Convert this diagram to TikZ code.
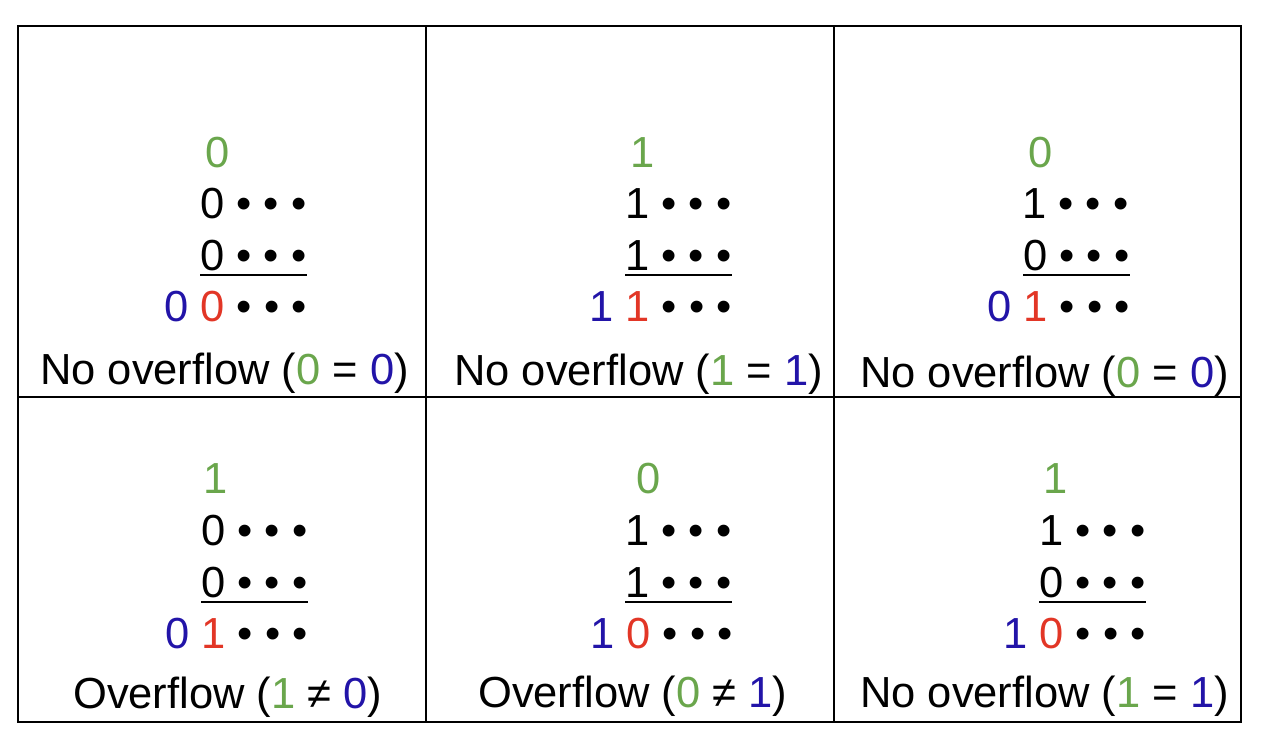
\documentclass[tikz,border=0pt]{standalone}
\usepackage{fontspec}
\setmainfont{Liberation Sans}
\definecolor{cgreen}{RGB}{106,166,76}
\definecolor{cblue}{RGB}{34,20,168}
\definecolor{cred}{RGB}{226,54,38}
\begin{document}
\begin{tikzpicture}[x=1pt,y=-1pt,
  txt/.style={anchor=base west, inner sep=0pt, font=\fontsize{43.5}{50}\selectfont},
  grid/.style={line width=1.5pt},
  uline/.style={line width=2pt}]
\useasboundingbox (0,0) rectangle (1264,750);
% table grid
\draw[grid] (18,26) rectangle (1241,722);
\draw[grid] (426,26) -- (426,722);
\draw[grid] (834,26) -- (834,722);
\draw[grid] (18,397) -- (1241,397);

% cell 1
\node[txt,text=cgreen] (c1g) at (205,167) {0};
\node[txt] (c1a) at (200,218) {0 • • •};
\node[txt] (c1b) at (200,270) {0 • • •};
\node[txt] (c1s) at (164,321) {\textcolor{cblue}{0} \textcolor{cred}{0} • • •};
\node[txt] (c1c) at (40,384) {No overflow (\textcolor{cgreen}{0} = \textcolor{cblue}{0})};
\draw[uline] ([yshift=-5pt]c1b.base west) -- ([yshift=-5pt]c1b.base east);

% cell 2
\node[txt,text=cgreen] (c2g) at (630,167) {1};
\node[txt] (c2a) at (625,218) {1 • • •};
\node[txt] (c2b) at (625,270) {1 • • •};
\node[txt] (c2s) at (589,321) {\textcolor{cblue}{1} \textcolor{cred}{1} • • •};
\node[txt] (c2c) at (454,385) {No overflow (\textcolor{cgreen}{1} = \textcolor{cblue}{1})};
\draw[uline] ([yshift=-5pt]c2b.base west) -- ([yshift=-5pt]c2b.base east);

% cell 3
\node[txt,text=cgreen] (c3g) at (1028,167) {0};
\node[txt] (c3a) at (1022,218) {1 • • •};
\node[txt] (c3b) at (1023,270) {0 • • •};
\node[txt] (c3s) at (987,321) {\textcolor{cblue}{0} \textcolor{cred}{1} • • •};
\node[txt] (c3c) at (860,387) {No overflow (\textcolor{cgreen}{0} = \textcolor{cblue}{0})};
\draw[uline] ([yshift=-5pt]c3b.base west) -- ([yshift=-5pt]c3b.base east);

% cell 4
\node[txt,text=cgreen] (c4g) at (203,493) {1};
\node[txt] (c4a) at (201,545) {0 • • •};
\node[txt] (c4b) at (201,597) {0 • • •};
\node[txt] (c4s) at (165,648) {\textcolor{cblue}{0} \textcolor{cred}{1} • • •};
\node[txt] (c4c) at (73,708) {Overflow (\textcolor{cgreen}{1} ≠ \textcolor{cblue}{0})};
\draw[uline] ([yshift=-5pt]c4b.base west) -- ([yshift=-5pt]c4b.base east);

% cell 5
\node[txt,text=cgreen] (c5g) at (636,493) {0};
\node[txt] (c5a) at (625,545) {1 • • •};
\node[txt] (c5b) at (625,597) {1 • • •};
\node[txt] (c5s) at (590,648) {\textcolor{cblue}{1} \textcolor{cred}{0} • • •};
\node[txt] (c5c) at (478,707) {Overflow (\textcolor{cgreen}{0} ≠ \textcolor{cblue}{1})};
\draw[uline] ([yshift=-5pt]c5b.base west) -- ([yshift=-5pt]c5b.base east);

% cell 6
\node[txt,text=cgreen] (c6g) at (1043,493) {1};
\node[txt] (c6a) at (1039,545) {1 • • •};
\node[txt] (c6b) at (1039,597) {0 • • •};
\node[txt] (c6s) at (1003,648) {\textcolor{cblue}{1} \textcolor{cred}{0} • • •};
\node[txt] (c6c) at (860,707) {No overflow (\textcolor{cgreen}{1} = \textcolor{cblue}{1})};
\draw[uline] ([yshift=-5pt]c6b.base west) -- ([yshift=-5pt]c6b.base east);
\end{tikzpicture}
\end{document}
